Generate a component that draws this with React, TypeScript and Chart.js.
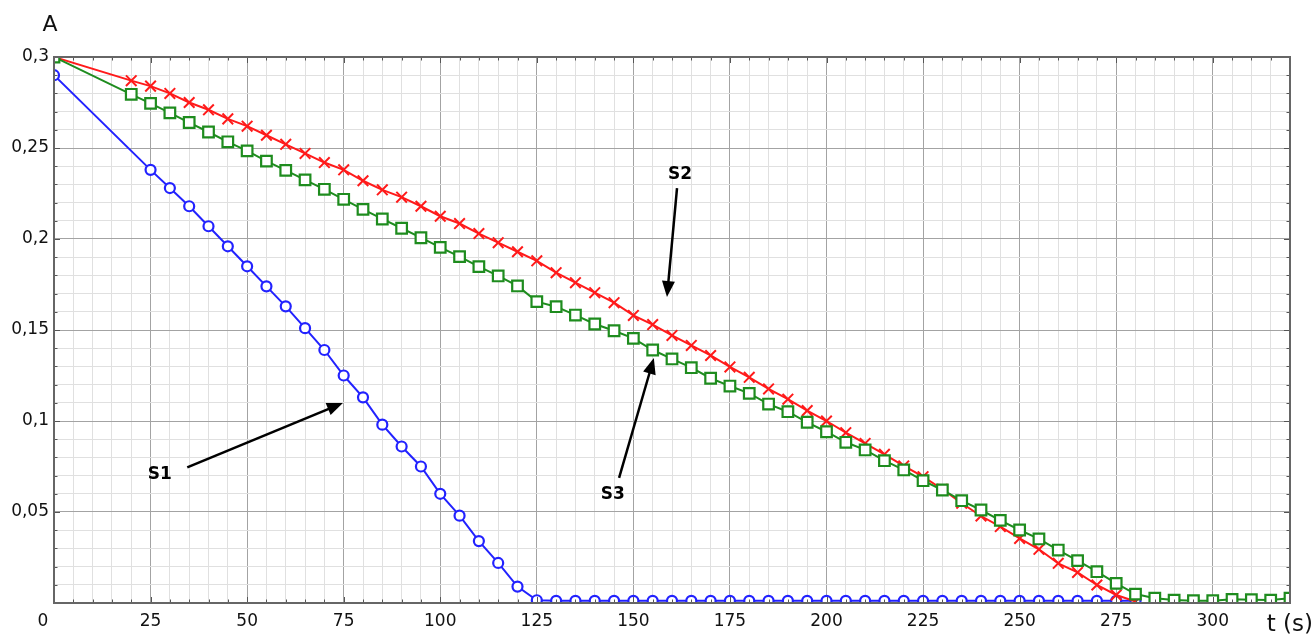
import React, { useEffect, useRef } from "react";
import { Chart, registerables } from "chart.js";

Chart.register(...registerables);

// ---- Data ----
const S1_T = [0, 25, 30, 35, 40, 45, 50, 55, 60, 65, 70, 75, 80, 85, 90, 95, 100, 105, 110, 115, 120, 125,
  130, 135, 140, 145, 150, 155, 160, 165, 170, 175, 180, 185, 190, 195, 200, 205, 210, 215, 220, 225,
  230, 235, 240, 245, 250, 255, 260, 265, 270, 275, 280];
const S1_A = [0.290, 0.238, 0.228, 0.218, 0.207, 0.196, 0.185, 0.174, 0.163, 0.151, 0.139, 0.125, 0.113,
  0.098, 0.086, 0.075, 0.060, 0.048, 0.034, 0.022, 0.009, 0.0015,
  0.0012, 0.0012, 0.0012, 0.0012, 0.0012, 0.0012, 0.0012, 0.0012, 0.0012, 0.0012, 0.0012, 0.0012,
  0.0012, 0.0012, 0.0012, 0.0012, 0.0012, 0.0012, 0.0012, 0.0012, 0.0012, 0.0012, 0.0012, 0.0012,
  0.0012, 0.0012, 0.0012, 0.0012, 0.0012, 0.0012, 0.0012];

const S2_T = [0, 20, 25, 30, 35, 40, 45, 50, 55, 60, 65, 70, 75, 80, 85, 90, 95, 100, 105, 110, 115, 120,
  125, 130, 135, 140, 145, 150, 155, 160, 165, 170, 175, 180, 185, 190, 195, 200, 205, 210, 215, 220,
  225, 230, 235, 240, 245, 250, 255, 260, 265, 270, 275, 280];
const S2_A = [0.300, 0.287, 0.284, 0.280, 0.275, 0.271, 0.266, 0.262, 0.257, 0.252, 0.247, 0.242, 0.238,
  0.232, 0.227, 0.223, 0.218, 0.2125, 0.2085, 0.203, 0.198, 0.193, 0.188, 0.1815, 0.176, 0.1705, 0.165,
  0.158, 0.153, 0.147, 0.1415, 0.136, 0.1297, 0.124, 0.1176, 0.112, 0.1057, 0.100, 0.0936, 0.0877,
  0.0817, 0.0753, 0.0694, 0.0625, 0.0548, 0.0478, 0.042, 0.0355, 0.0295, 0.0218, 0.0168, 0.0099,
  0.0044, 0.0008];

const S3_T = [0, 20, 25, 30, 35, 40, 45, 50, 55, 60, 65, 70, 75, 80, 85, 90, 95, 100, 105, 110, 115, 120,
  125, 130, 135, 140, 145, 150, 155, 160, 165, 170, 175, 180, 185, 190, 195, 200, 205, 210, 215, 220,
  225, 230, 235, 240, 245, 250, 255, 260, 265, 270, 275, 280, 285, 290, 295, 300, 305, 310, 315, 320];
const S3_A = [0.300, 0.2795, 0.2745, 0.2693, 0.264, 0.2588, 0.2534, 0.2484, 0.2428, 0.2377, 0.2325,
  0.2273, 0.2218, 0.2163, 0.211, 0.2059, 0.2007, 0.1954, 0.1903, 0.1848, 0.1797, 0.1742, 0.1656, 0.1628,
  0.1582, 0.1533, 0.1496, 0.1454, 0.139, 0.1341, 0.1293, 0.1235, 0.1192, 0.1152, 0.1093, 0.1051, 0.0993,
  0.0941, 0.0883, 0.0841, 0.0782, 0.0731, 0.0672, 0.0621, 0.0562, 0.0511, 0.0454, 0.0401, 0.0352,
  0.0291, 0.0233, 0.0172, 0.0108, 0.0049, 0.0026, 0.0016, 0.0013, 0.0013, 0.002, 0.0018, 0.0016, 0.0026];

const X_MIN = 0;
const X_MAX = 320;
const Y_MIN = 0;
const Y_MAX = 0.3;

// Annotations: label position, arrow tail, arrow tip (data coords: t, A)
const ANNOTATIONS = [
  { text: "S1", label: [27.4, 0.0703], tail: [34.5, 0.0745], tip: [74.8, 0.1099] },
  { text: "S2", label: [162.1, 0.2352], tail: [161.3, 0.228], tip: [158.7, 0.1681] },
  { text: "S3", label: [144.7, 0.0593], tail: [146.3, 0.0687], tip: [155.3, 0.1346] },
];

const FONT = "'DejaVu Sans', 'Liberation Sans', sans-serif";

const toPts = (t: number[], a: number[]) => t.map((x, i) => ({ x, y: a[i] }));

const fmtY = (v: number) => String(Math.round(v * 100) / 100).replace(".", ",");

const decorPlugin = {
  id: "decor",
  afterDatasetsDraw(chart: any) {
    const { ctx, chartArea, scales } = chart;
    const xs = scales.x;
    const ys = scales.y;
    const { left, right, top, bottom } = chartArea;
    ctx.save();
    // tick marks (inward)
    ctx.strokeStyle = "#555";
    ctx.lineWidth = 1;
    ctx.beginPath();
    for (let t = X_MIN; t <= X_MAX; t += 5) {
      const px = Math.round(xs.getPixelForValue(t)) + 0.5;
      const len = t % 25 === 0 ? 6 : 3.5;
      ctx.moveTo(px, bottom);
      ctx.lineTo(px, bottom - len);
      ctx.moveTo(px, top);
      ctx.lineTo(px, top + len);
    }
    for (let i = 0; i <= 30; i++) {
      const v = i / 100;
      const py = Math.round(ys.getPixelForValue(v)) + 0.5;
      const len = i % 5 === 0 ? 6 : 3.5;
      ctx.moveTo(left, py);
      ctx.lineTo(left + len, py);
      ctx.moveTo(right, py);
      ctx.lineTo(right - len, py);
    }
    ctx.stroke();
    // box
    ctx.strokeStyle = "#666";
    ctx.lineWidth = 2;
    ctx.strokeRect(left, top, right - left, bottom - top);

    // origin label
    ctx.fillStyle = "#111";
    ctx.font = "17px " + FONT;
    ctx.textAlign = "center";
    ctx.textBaseline = "middle";
    ctx.fillText("0", xs.getPixelForValue(0) - 11, 622);

    // axis titles
    ctx.font = "22px " + FONT;
    ctx.fillText("A", 50, 25);
    ctx.font = "23px " + FONT;
    ctx.textAlign = "right";
    ctx.fillText("t (s)", 1313, 625);

    // annotations
    ctx.fillStyle = "#000";
    ctx.strokeStyle = "#000";
    for (const an of ANNOTATIONS) {
      const lx = xs.getPixelForValue(an.label[0]);
      const ly = ys.getPixelForValue(an.label[1]);
      ctx.font = "bold 17px " + FONT;
      ctx.textAlign = "center";
      ctx.textBaseline = "middle";
      ctx.fillText(an.text, lx, ly);
      const x1 = xs.getPixelForValue(an.tail[0]);
      const y1 = ys.getPixelForValue(an.tail[1]);
      const x2 = xs.getPixelForValue(an.tip[0]);
      const y2 = ys.getPixelForValue(an.tip[1]);
      const ang = Math.atan2(y2 - y1, x2 - x1);
      const headLen = 16;
      const headW = 6.5;
      const bx = x2 - headLen * Math.cos(ang);
      const by = y2 - headLen * Math.sin(ang);
      ctx.lineWidth = 2.5;
      ctx.beginPath();
      ctx.moveTo(x1, y1);
      ctx.lineTo(bx + 2 * Math.cos(ang), by + 2 * Math.sin(ang));
      ctx.stroke();
      ctx.beginPath();
      ctx.moveTo(x2, y2);
      ctx.lineTo(bx + headW * Math.sin(ang), by - headW * Math.cos(ang));
      ctx.lineTo(bx - headW * Math.sin(ang), by + headW * Math.cos(ang));
      ctx.closePath();
      ctx.fill();
    }
    ctx.restore();
  },
};

export default function App() {
  const ref = useRef<HTMLCanvasElement | null>(null);

  useEffect(() => {
    if (!ref.current) return;
    const chart = new Chart(ref.current, {
      type: "line",
      data: {
        datasets: [
          {
            label: "S3",
            data: toPts(S3_T, S3_A),
            borderColor: "#1e8c1e",
            borderWidth: 2,
            pointStyle: "rect",
            pointRadius: 7.5,
            pointBorderWidth: 2.2,
            pointBorderColor: "#1e8c1e",
            pointBackgroundColor: "#ffffff",
            tension: 0,
            clip: 0,
            order: 0,
          },
          {
            label: "S2",
            data: toPts(S2_T, S2_A),
            borderColor: "#ff1a1a",
            borderWidth: 2,
            pointStyle: "crossRot",
            pointRadius: (c: any) => (c.dataIndex === 0 ? 0 : 7.5),
            pointBorderWidth: 2,
            pointBorderColor: "#ff1a1a",
            pointBackgroundColor: "#ff1a1a",
            tension: 0,
            clip: 0,
            order: 1,
          },
          {
            label: "S1",
            data: toPts(S1_T, S1_A),
            borderColor: "#2222ff",
            borderWidth: 2,
            pointStyle: "circle",
            pointRadius: 5,
            pointBorderWidth: 2.2,
            pointBorderColor: "#2222ff",
            pointBackgroundColor: "#ffffff",
            tension: 0,
            clip: 0,
            order: 2,
          },
        ],
      },
      options: {
        responsive: false,
        animation: false,
        events: [],
        layout: { padding: { top: 57, right: 25, left: 0, bottom: 0 } },
        plugins: { legend: { display: false }, tooltip: { enabled: false }, title: { display: false } },
        scales: {
          x: {
            type: "linear",
            min: X_MIN,
            max: X_MAX,
            afterFit: (s: any) => { s.height = 33; },
            border: { display: false },
            grid: {
              drawTicks: false,
              lineWidth: 1,
              color: (c: any) => (c.tick && c.tick.value % 25 === 0 ? "#a3a3a3" : "#e0e0e0"),
            },
            ticks: {
              stepSize: 5,
              autoSkip: false,
              maxRotation: 0,
              padding: 8,
              color: "#111",
              font: { family: FONT, size: 17 },
              callback: (v: any) => (v % 25 === 0 && v !== 0 ? String(v) : ""),
            },
          },
          y: {
            type: "linear",
            min: Y_MIN,
            max: Y_MAX,
            afterFit: (s: any) => { s.width = 54; },
            border: { display: false },
            grid: {
              drawTicks: false,
              lineWidth: 1,
              color: (c: any) => {
                const r = Math.round((c.tick ? c.tick.value : 0) * 100);
                return r % 5 === 0 ? "#a3a3a3" : "#e0e0e0";
              },
            },
            ticks: {
              stepSize: 0.01,
              autoSkip: false,
              padding: 5,
              color: "#111",
              font: { family: FONT, size: 17 },
              callback: (v: any) => {
                const r = Math.round(v * 100);
                return r % 5 === 0 && r !== 0 ? fmtY(v) : "";
              },
            },
          },
        },
      },
      plugins: [decorPlugin],
    } as any);
    return () => chart.destroy();
  }, []);

  return (
    <div style={{ position: "fixed", left: 0, top: 0, width: 1315, height: 636, background: "#fff" }}>
      <canvas ref={ref} width={1315} height={636} style={{ width: 1315, height: 636 }} />
    </div>
  );
}
